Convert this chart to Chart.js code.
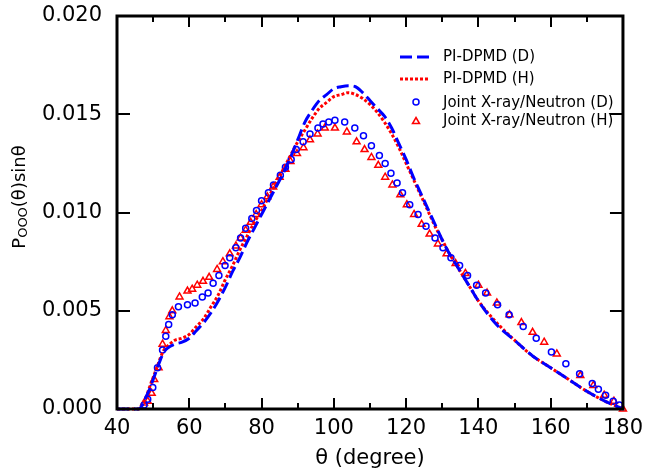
<!DOCTYPE html>
<html lang="en">
<head>
  <meta charset="UTF-8">
  <title>P_OOO(θ)sinθ vs θ</title>
  <script src="https://cdn.jsdelivr.net/npm/chart.js"></script>
  <style>
    body { margin: 0; background: #fff; }
    #wrap { width: 650px; height: 475px; }
  </style>
</head>
<body>
  <div id="wrap"><canvas id="chart" width="650" height="475"></canvas></div>

  <script>
    // PI-DPMD curves, sampled along theta (degree)
    const thetaLine = [40, 45, 46, 47, 48, 49, 50, 51, 52, 53, 54, 56, 58, 60, 62, 64, 66, 68, 70, 72, 74, 76, 78, 80,
      82, 84, 86, 88, 90, 92, 94, 96, 98, 100, 102, 104, 106, 108, 110, 112, 114, 116, 118, 120, 122, 124, 126, 128,
      130, 132, 134, 136, 138, 140, 145, 150, 155, 160, 165, 170, 175, 180];
    const dpmdD = [0, 0, 0, 0.0002, 0.0006, 0.0010, 0.0015, 0.0020, 0.0025, 0.0029, 0.0031, 0.0033, 0.0034, 0.0036,
      0.0040, 0.0044, 0.0049, 0.0055, 0.0062, 0.0070, 0.0077, 0.0085, 0.0092, 0.0099, 0.0106, 0.0113, 0.0120, 0.0128,
      0.0137, 0.0146, 0.0152, 0.0157, 0.0160, 0.0163, 0.0164, 0.01645, 0.0164, 0.0161, 0.0157, 0.0153, 0.0149, 0.0143,
      0.0135, 0.0127, 0.0118, 0.0110, 0.0102, 0.0094, 0.0086, 0.0079, 0.0073, 0.0067, 0.0061, 0.0055, 0.0043, 0.0035,
      0.0027, 0.0021, 0.0015, 0.0009, 0.0004, 0];
    const dpmdH = [0, 0, 0, 0.0002, 0.0006, 0.0011, 0.0016, 0.0021, 0.0026, 0.0030, 0.0032, 0.0035, 0.0036, 0.0038,
      0.0042, 0.0046, 0.0052, 0.0058, 0.0066, 0.0073, 0.0081, 0.0088, 0.0095, 0.0101, 0.0108, 0.0115, 0.0122, 0.0129,
      0.0136, 0.0142, 0.0148, 0.0153, 0.0156, 0.0159, 0.0160, 0.0161, 0.0160, 0.0158, 0.0155, 0.0151, 0.0146, 0.0140,
      0.0133, 0.0125, 0.0117, 0.0109, 0.0101, 0.0093, 0.0086, 0.0079, 0.0073, 0.0067, 0.0061, 0.0055, 0.0044, 0.0035,
      0.0027, 0.0021, 0.0015, 0.0009, 0.0004, 0];

    // Joint X-ray/Neutron (D), circles
    const thetaXnD = [47.5, 48.5, 49.9, 51.2, 52.6, 53.5, 54.3, 55.3, 57, 59.5, 61.6, 63.6, 65.2, 66.6, 68.2, 69.9, 71.2,
      72.9, 74.2, 75.6, 77.3, 78.6, 80, 81.9, 83.3, 85.2, 86.6, 88.2, 89.6, 91.5, 93.4, 95.6, 97, 98.6, 100.3, 103,
      105.8, 108.2, 110.4, 112.6, 114.2, 115.8, 117.5, 119, 121, 123.3, 125.5, 128, 130.2, 132.4, 134.8, 137, 139.5,
      142, 145.3, 148.5, 152.4, 156, 160.2, 164.2, 168, 171.5, 173.2, 175.2, 177.3, 179];
    const xnD = [0.0002, 0.0005, 0.0011, 0.0021, 0.0030, 0.0037, 0.0043, 0.0048, 0.0052, 0.0053, 0.0054, 0.0057, 0.0059,
      0.0064, 0.0068, 0.0073, 0.0077, 0.0082, 0.0087, 0.0092, 0.0097, 0.0101, 0.0106, 0.0110, 0.0114, 0.0119, 0.0123,
      0.0127, 0.0132, 0.0136, 0.0140, 0.0143, 0.0145, 0.0146, 0.0147, 0.0146, 0.0143, 0.0139, 0.0134, 0.0129, 0.0125,
      0.0120, 0.0115, 0.0110, 0.0104, 0.0099, 0.0093, 0.0087, 0.0082, 0.0077, 0.0073, 0.0068, 0.0063, 0.0059, 0.0053,
      0.0048, 0.0042, 0.0036, 0.0029, 0.0023, 0.0018, 0.0013, 0.0010, 0.0007, 0.0004, 0.0002];

    // Joint X-ray/Neutron (H), triangles
    const thetaXnH = [47.5, 48.5, 49.6, 50.3, 51.5, 52.6, 53.5, 54.5, 55.3, 57.3, 59.5, 60.8, 62.2, 63.8, 65.5, 67.7,
      69.3, 71.2, 72.9, 74.2, 75.6, 77, 78.5, 80, 81.6, 83.2, 85, 86.6, 88, 89.8, 91.6, 93.4, 95.5, 97.5, 100.3, 103.6,
      106.3, 108.5, 110.4, 112.3, 114.2, 116.2, 118.4, 120.2, 122.2, 124.3, 126.5, 128.8, 131.2, 133.7, 136.4, 140,
      142.4, 145.1, 148.6, 151.9, 155, 158.2, 161.7, 168.2, 171.8, 174.8, 177.5, 180];
    const xnH = [0.0003, 0.0004, 0.0008, 0.0015, 0.0021, 0.0033, 0.0040, 0.0047, 0.0050, 0.0057, 0.0060, 0.0061, 0.0063,
      0.0065, 0.0067, 0.0071, 0.0075, 0.0079, 0.0083, 0.0087, 0.0091, 0.0095, 0.0099, 0.0104, 0.0108, 0.0113, 0.0118,
      0.0122, 0.0126, 0.0130, 0.0133, 0.0137, 0.0140, 0.0143, 0.0143, 0.0141, 0.0136, 0.0132, 0.0128, 0.0124, 0.0118,
      0.0114, 0.0109, 0.0104, 0.0099, 0.0094, 0.0089, 0.0084, 0.0079, 0.0074, 0.0069, 0.0063, 0.0059, 0.0054, 0.0048,
      0.0044, 0.0039, 0.0034, 0.0028, 0.0017, 0.0012, 0.0007, 0.0004, 0];

    const xTicks = [40, 50, 60, 70, 80, 90, 100, 110, 120, 130, 140, 150, 160, 170, 180];
    const yTicks = [0, 0.005, 0.010, 0.015, 0.020];

    const FONT = 'DejaVu Sans';
    const toXY = (xs, ys) => xs.map((v, i) => ({ x: v, y: ys[i] }));

    // box frame, inward ticks, axis titles and the in-plot legend
    const framePlugin = {
      id: 'frame',
      afterDraw(chart) {
        const { ctx, chartArea: a, scales: { x, y } } = chart;
        ctx.save();
        ctx.strokeStyle = '#000';
        ctx.lineWidth = 3;
        ctx.strokeRect(a.left, a.top, a.right - a.left, a.bottom - a.top);

        ctx.lineWidth = 2;
        ctx.beginPath();
        xTicks.forEach(v => {
          const px = Math.round(x.getPixelForValue(v));
          const len = v % 20 === 0 ? 11 : 6;
          ctx.moveTo(px, a.bottom); ctx.lineTo(px, a.bottom - len);
          ctx.moveTo(px, a.top); ctx.lineTo(px, a.top + len);
        });
        yTicks.forEach(v => {
          const py = Math.round(y.getPixelForValue(v));
          ctx.moveTo(a.left, py); ctx.lineTo(a.left + 13, py);
          ctx.moveTo(a.right, py); ctx.lineTo(a.right - 13, py);
        });
        ctx.stroke();

        // x title
        ctx.fillStyle = '#000';
        ctx.font = '21px "' + FONT + '"';
        ctx.textAlign = 'center';
        ctx.textBaseline = 'middle';
        ctx.fillText('θ (degree)', (a.left + a.right) / 2, 459);

        // y title with subscript
        ctx.save();
        ctx.translate(25, 197);
        ctx.rotate(-Math.PI / 2);
        ctx.textAlign = 'left';
        ctx.textBaseline = 'alphabetic';
        const big = '18px "' + FONT + '"', small = '13px "' + FONT + '"';
        ctx.font = big; const w1 = ctx.measureText('P').width, w3 = ctx.measureText('(θ)sinθ').width;
        ctx.font = small; const w2 = ctx.measureText('OOO').width;
        let cx = -(w1 + w2 + w3) / 2;
        ctx.font = big; ctx.fillText('P', cx, 0); cx += w1;
        ctx.font = small; ctx.fillText('OOO', cx, 2); cx += w2;
        ctx.font = big; ctx.fillText('(θ)sinθ', cx, 0);
        ctx.restore();

        // legend
        ctx.font = '15px "' + FONT + '"';
        ctx.textAlign = 'left';
        ctx.textBaseline = 'middle';
        const rows = [57, 79, 103, 121];
        const labels = chart.data.datasets.map(d => d.label);
        ctx.lineWidth = 3;
        ctx.strokeStyle = '#0000ff';
        ctx.setLineDash([12, 5]);
        ctx.beginPath(); ctx.moveTo(400, rows[0]); ctx.lineTo(430, rows[0]); ctx.stroke();
        ctx.strokeStyle = '#ff0000';
        ctx.setLineDash([3, 2]);
        ctx.beginPath(); ctx.moveTo(400, rows[1]); ctx.lineTo(430, rows[1]); ctx.stroke();
        ctx.setLineDash([]);
        ctx.lineWidth = 1.5;
        ctx.strokeStyle = '#0000ff';
        ctx.beginPath(); ctx.arc(416, rows[2] - 1, 3, 0, Math.PI * 2); ctx.stroke();
        ctx.strokeStyle = '#ff0000';
        ctx.beginPath();
        ctx.moveTo(416, rows[3] - 3.5); ctx.lineTo(419.5, rows[3] + 2.5); ctx.lineTo(412.5, rows[3] + 2.5);
        ctx.closePath(); ctx.stroke();
        labels.forEach((t, i) => ctx.fillText(t, 443, rows[i]));
        ctx.restore();
      }
    };

    new Chart(document.getElementById('chart'), {
      type: 'line',
      data: {
        datasets: [
          {
            label: 'PI-DPMD (D)',
            data: toXY(thetaLine, dpmdD),
            borderColor: '#0000ff',
            borderWidth: 3,
            borderDash: [12, 5],
            pointRadius: 0,
            cubicInterpolationMode: 'monotone',
            clip: 4
          },
          {
            label: 'PI-DPMD (H)',
            data: toXY(thetaLine, dpmdH),
            borderColor: '#ff0000',
            borderWidth: 3,
            borderDash: [3, 2],
            pointRadius: 0,
            cubicInterpolationMode: 'monotone',
            clip: 4
          },
          {
            label: 'Joint X-ray/Neutron (D)',
            data: toXY(thetaXnD, xnD),
            showLine: false,
            pointStyle: 'circle',
            pointRadius: 3,
            pointBorderWidth: 1.5,
            pointBorderColor: '#0000ff',
            pointBackgroundColor: 'rgba(0,0,0,0)',
            borderColor: '#0000ff',
            clip: 6
          },
          {
            label: 'Joint X-ray/Neutron (H)',
            data: toXY(thetaXnH, xnH),
            showLine: false,
            pointStyle: 'triangle',
            pointRadius: 4,
            pointBorderWidth: 1.5,
            pointBorderColor: '#ff0000',
            pointBackgroundColor: 'rgba(0,0,0,0)',
            borderColor: '#ff0000',
            clip: 6
          }
        ]
      },
      options: {
        responsive: false,
        animation: false,
        layout: { padding: { top: 16, right: 22, left: 0, bottom: 0 } },
        plugins: {
          legend: { display: false },
          tooltip: { enabled: false }
        },
        scales: {
          x: {
            type: 'linear',
            min: 40,
            max: 180,
            afterFit: s => { s.height = 66; },
            afterBuildTicks: s => { s.ticks = xTicks.filter(v => v % 20 === 0).map(v => ({ value: v })); },
            grid: { display: false, drawTicks: false },
            border: { display: false },
            ticks: { color: '#000', font: { family: FONT, size: 21 }, padding: 7, maxRotation: 0 }
          },
          y: {
            min: 0,
            max: 0.02,
            afterFit: s => { s.width = 117; s.paddingTop = 0; s.paddingBottom = 0; },
            afterBuildTicks: s => { s.ticks = yTicks.map(v => ({ value: v })); },
            grid: { display: false, drawTicks: false },
            border: { display: false },
            ticks: {
              color: '#000',
              font: { family: FONT, size: 21 },
              padding: 15,
              callback: v => v.toFixed(3)
            }
          }
        }
      },
      plugins: [framePlugin]
    });
  </script>
</body>
</html>
